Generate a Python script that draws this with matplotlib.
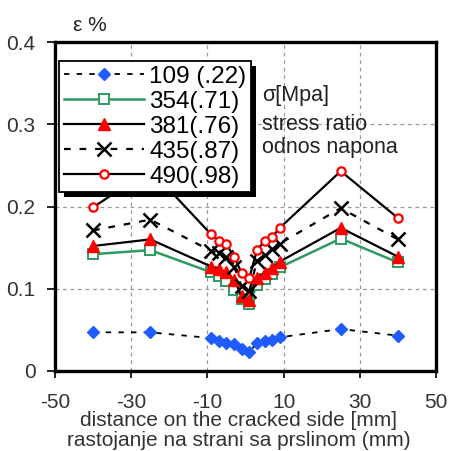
import matplotlib
matplotlib.use("Agg")
import matplotlib.pyplot as plt
from matplotlib.patches import Rectangle

plt.rcParams['font.family'] = ['Liberation Sans', 'DejaVu Sans']

x = [-40, -25, -9, -7, -5, -3, -1, 1, 3, 5, 7, 9, 25, 40]
s109 = [0.047, 0.047, 0.040, 0.036, 0.034, 0.033, 0.027, 0.023, 0.034, 0.036, 0.038, 0.041, 0.051, 0.043]
s354 = [0.142, 0.147, 0.120, 0.116, 0.110, 0.099, 0.087, 0.081, 0.105, 0.112, 0.118, 0.126, 0.161, 0.132]
s381 = [0.152, 0.160, 0.127, 0.124, 0.120, 0.111, 0.091, 0.086, 0.113, 0.119, 0.125, 0.133, 0.174, 0.139]
s435 = [0.171, 0.184, 0.146, 0.143, 0.138, 0.127, 0.103, 0.097, 0.134, 0.141, 0.148, 0.155, 0.198, 0.160]
s490 = [0.199, 0.245, 0.166, 0.158, 0.154, 0.139, 0.119, 0.113, 0.147, 0.158, 0.163, 0.174, 0.243, 0.186]
labels = ["109 (.22)", "354(.71)", "381(.76)", "435(.87)", "490(.98)"]
xticks = [-50, -30, -10, 10, 30, 50]
yticks = [0, 0.1, 0.2, 0.3, 0.4]

fig = plt.figure(figsize=(4.49, 4.51), dpi=100)
ax = fig.add_axes([55/449, 1-371/451, (436-55)/449, (371-42)/451])

green = '#2f9a60'
blue = '#1f5cff'
ax.plot(x, s109, color='black', lw=1.3, ls=(0, (3, 4)), marker='D', ms=6,
        mfc=blue, mec=blue, label=labels[0], zorder=3)
ax.plot(x, s354, color=green, lw=1.8, marker='s', ms=6.5, mfc='white',
        mec=green, mew=1.4, label=labels[1], zorder=3)
ax.plot(x, s381, color='black', lw=1.6, marker='^', ms=8, mfc='red',
        mec='red', label=labels[2], zorder=3)
ax.plot(x, s435, color='black', lw=1.6, ls=(0, (3, 4)), marker='x', ms=10,
        mew=1.8, mec='black', label=labels[3], zorder=3)
ax.plot(x, s490, color='black', lw=1.6, marker='o', ms=6, mfc='white',
        mec='red', mew=1.6, label=labels[4], zorder=3)

ax.set_xlim(-50, 50)
ax.set_ylim(0, 0.4)
ax.set_xticks(xticks)
ax.set_xticklabels([str(v) for v in xticks])
ax.set_yticks(yticks)
ax.set_yticklabels(['0', '0.1', '0.2', '0.3', '0.4'])
ax.grid(True, color='#999999', ls=(0, (3, 3)), lw=0.9)
for sp in ax.spines.values():
    sp.set_linewidth(2.4)
    sp.set_color('black')
ax.tick_params(axis='x', length=5, width=1.2, pad=11, labelsize=15, labelcolor='#333333', direction='out')
ax.tick_params(axis='y', length=6, width=1.2, pad=8, labelsize=15, labelcolor='#333333', direction='out')

leg = ax.legend(loc='upper left', bbox_to_anchor=(59/449, 1-61/451),
                bbox_transform=fig.transFigure, fontsize=17.5, frameon=True,
                fancybox=False, edgecolor='black', facecolor='white',
                framealpha=1, borderpad=0.2, labelspacing=0.12,
                handlelength=3.3, handletextpad=0.22, borderaxespad=0)
leg.get_frame().set_linewidth(1.3)
leg.set_zorder(5)

fig.canvas.draw()
bb = leg.get_window_extent()
inv = fig.transFigure.inverted()
(x0, y0), (x1, y1) = inv.transform([[bb.x0, bb.y0], [bb.x1, bb.y1]])
dx, dy = 5/449, 5/451
shadow = Rectangle((x0 + dx, y0 - dy), x1 - x0, y1 - y0, transform=fig.transFigure,
                   facecolor='black', edgecolor='none', zorder=4)
ax.add_artist(shadow)
shadow.set_clip_on(False)

fig.text(73/449, 1-31/451, 'ε %', fontsize=15, color='#222222', va='baseline')
fig.text(262/449, 1-95/451, 'σ[Mpa]', fontsize=15.5, color='#222222', va='center')
fig.text(262/449, 1-125/451, 'stress ratio', fontsize=15.5, color='#222222', va='center')
fig.text(262/449, 1-148/451, 'odnos napona', fontsize=15.5, color='#222222', va='center')

fig.text(239/449, 1-426/451, 'distance on the cracked side [mm]', fontsize=15,
         color='#333333', ha='center', va='baseline')
fig.text(239/449, 1-446/451, 'rastojanje na strani sa prslinom (mm)', fontsize=15,
         color='#333333', ha='center', va='baseline')

fig.savefig('out.png', dpi=100, facecolor='white')
